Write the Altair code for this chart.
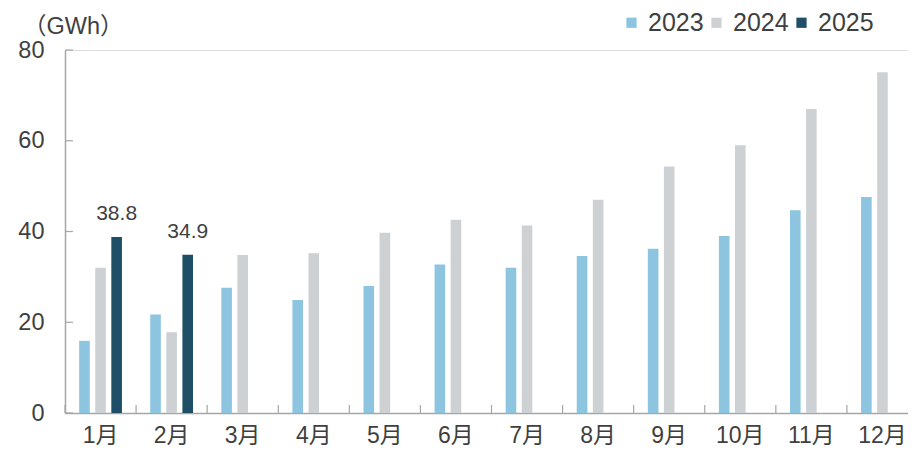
import altair as alt
import pandas as pd

months = ["1月", "2月", "3月", "4月", "5月", "6月", "7月", "8月", "9月", "10月", "11月", "12月"]
years = ["2023", "2024", "2025"]
v2023 = [15.9, 21.7, 27.6, 24.9, 28.0, 32.7, 32.0, 34.6, 36.2, 39.0, 44.7, 47.6]
v2024 = [32.0, 17.8, 34.8, 35.2, 39.7, 42.6, 41.3, 47.0, 54.3, 59.0, 67.0, 75.1]
v2025 = [38.8, 34.9]
y_ticks = [0, 20, 40, 60, 80]
unit_label = "（GWh）"
colors = ["#8DC4DF", "#CED1D4", "#1F4E67"]

rows = []
for m, v in zip(months, v2023):
    rows.append({"month": m, "year": "2023", "value": v})
for m, v in zip(months, v2024):
    rows.append({"month": m, "year": "2024", "value": v})
for m, v in zip(months, v2025):
    rows.append({"month": m, "year": "2025", "value": v})
df = pd.DataFrame(rows)
df25 = df[df["year"] == "2025"]

FONT = "Liberation Sans, Noto Sans CJK SC, sans-serif"
TXT = "#3F3F3F"
AX = "#A6A6A6"
W, H = 853, 363

x_enc = alt.X(
    "month:N", sort=months,
    scale=alt.Scale(paddingInner=0, paddingOuter=0),
    axis=alt.Axis(title=None, labelAngle=0, labelFontSize=23, labelColor=TXT, labelFont=FONT,
                  ticks=False, tickSize=0, labelPadding=11, domainColor=AX, domainWidth=1.5, grid=False),
)
y_enc = alt.Y(
    "value:Q",
    scale=alt.Scale(domain=[0, 80], nice=False),
    axis=alt.Axis(title=None, values=y_ticks, labelFontSize=23.5, labelColor=TXT, labelFont=FONT,
                  ticks=False, tickSize=0, labelPadding=21, domainColor=AX, domainWidth=1.5, grid=False),
)
xo_enc = alt.XOffset("year:N", sort=years, scale=alt.Scale(paddingInner=0.34, paddingOuter=0.88))

bars = alt.Chart(df).mark_bar().encode(
    x=x_enc,
    xOffset=xo_enc,
    y=y_enc,
    color=alt.Color("year:N", sort=years,
                    scale=alt.Scale(domain=years, range=colors),
                    legend=alt.Legend(title=None, orient="none", legendX=554, legendY=-40,
                                      direction="horizontal", symbolType="square", symbolSize=105,
                                      symbolStrokeWidth=0, labelFontSize=25, labelColor=TXT,
                                      labelFont=FONT, columnPadding=0, labelOffset=4, padding=0)),
)

labels = alt.Chart(df25).mark_text(fontSize=21, color=TXT, font=FONT, baseline="alphabetic", dy=-17).encode(
    x=alt.X("month:N", sort=months),
    xOffset=alt.XOffset("year:N", sort=years),
    y=alt.Y("value:Q"),
    text=alt.Text("value:Q", format=".1f"),
)

xticks = alt.Chart(pd.DataFrame({"month": months})).mark_rule(color=AX, strokeWidth=1.2).encode(
    x=alt.X("month:N", sort=months, bandPosition=0),
    y=alt.value(H),
    y2=alt.value(H - 8),
)

yticks = alt.Chart(pd.DataFrame({"tick": y_ticks})).mark_rule(color=AX, strokeWidth=1.2).encode(
    y=alt.Y("tick:Q"),
    x=alt.value(0),
    x2=alt.value(8),
)

unit = alt.Chart(pd.DataFrame({"t": [unit_label]})).mark_text(
    fontSize=23.5, color=TXT, font=FONT, align="left", baseline="middle"
).encode(
    text="t:N",
    x=alt.value(-42),
    y=alt.value(-23),
)

chart = alt.layer(bars, labels, xticks, yticks, unit).properties(
    width=W, height=H,
    autosize=alt.AutoSizeParams(type="none"),
    padding={"left": 57, "top": 42, "right": -10, "bottom": 37},
).configure_view(stroke=None).configure(font=FONT)

chart.save("out.html", embed_options={"renderer": "svg", "actions": False})
